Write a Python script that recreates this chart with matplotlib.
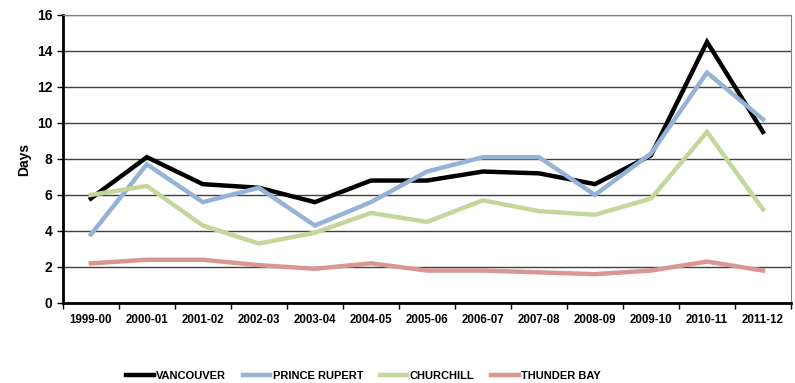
import numpy as np
import matplotlib

matplotlib.use("Agg")
import matplotlib.pyplot as plt

plt.rcParams["font.family"] = ["Liberation Sans", "DejaVu Sans"]
plt.rcParams["font.weight"] = "bold"

years = ["1999-00", "2000-01", "2001-02", "2002-03", "2003-04", "2004-05", "2005-06",
         "2006-07", "2007-08", "2008-09", "2009-10", "2010-11", "2011-12"]
vancouver = [5.8, 8.1, 6.6, 6.4, 5.6, 6.8, 6.8, 7.3, 7.2, 6.6, 8.2, 14.5, 9.5]
prince_rupert = [3.8, 7.7, 5.6, 6.4, 4.3, 5.6, 7.3, 8.1, 8.1, 6.0, 8.3, 12.8, 10.2]
churchill = [6.0, 6.5, 4.3, 3.3, 3.9, 5.0, 4.5, 5.7, 5.1, 4.9, 5.8, 9.5, 5.2]
thunder_bay = [2.2, 2.4, 2.4, 2.1, 1.9, 2.2, 1.8, 1.8, 1.7, 1.6, 1.8, 2.3, 1.8]

series = [
    ("VANCOUVER", vancouver, "#000000"),
    ("PRINCE RUPERT", prince_rupert, "#95B3D7"),
    ("CHURCHILL", churchill, "#C3D69B"),
    ("THUNDER BAY", thunder_bay, "#D99694"),
]

fig = plt.figure(figsize=(7.95, 3.83), dpi=100)
ax = fig.add_axes([0.079, 0.209, 0.916, 0.752])

x = np.arange(len(years))
for name, vals, col in series:
    ax.plot(x, vals, color=col, lw=3.2, label=name, solid_joinstyle="miter")

ax.set_xlim(-0.5, len(years) - 0.5)
ax.set_ylim(0, 16)
ax.set_yticks(range(0, 17, 2))
ax.yaxis.grid(True, color="#404040", lw=1.0)
ax.set_axisbelow(True)

ax.set_xticks(x)
ax.set_xticklabels(years, fontsize=8.3, fontweight="bold")
ax.tick_params(axis="x", which="major", length=0, pad=8)
ax.set_xticks(np.arange(-0.5, len(years)), minor=True)
ax.tick_params(axis="x", which="minor", length=4, width=1, color="black")
ax.tick_params(axis="y", labelsize=10, length=4, width=1)
for lab in ax.get_yticklabels():
    lab.set_fontweight("bold")
ax.set_ylabel("Days", fontsize=10, fontweight="bold", labelpad=4)

ax.spines["left"].set_linewidth(2)
ax.spines["bottom"].set_linewidth(2)
ax.spines["right"].set_color("#808080")
ax.spines["top"].set_color("#808080")

leg = fig.legend(loc="lower center", bbox_to_anchor=(0.457, -0.02), ncol=4, frameon=False,
                 prop={"size": 8, "weight": "bold"}, handlelength=2.5, columnspacing=1.5,
                 handletextpad=0.2)

fig.savefig("out.png", dpi=100)
